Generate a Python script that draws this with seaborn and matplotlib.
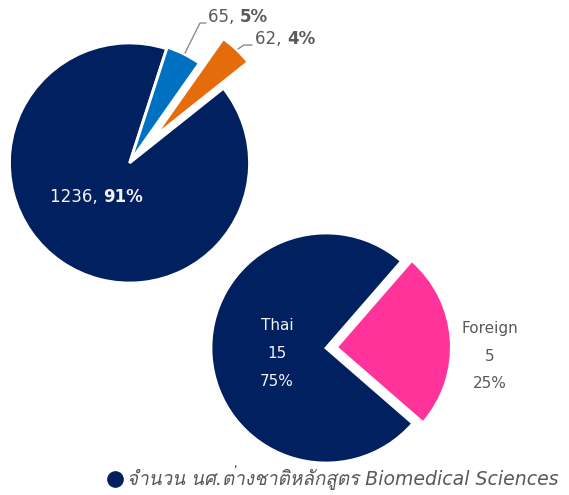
import matplotlib
matplotlib.use("Agg")
import matplotlib.pyplot as plt
from matplotlib.lines import Line2D
import seaborn as sns

# ---- data ----
top_counts = [1236, 65, 62]
top_pcts = ["91%", "5%", "4%"]
bottom_labels = ["Thai", "Foreign"]
bottom_counts = [15, 5]
bottom_pcts = ["75%", "25%"]
legend_label = "จำนวน นศ.ต่างชาติหลักสูตร Biomedical Sciences"

# ---- style ----
sns.set_style("white")
FONT = ["DejaVu Sans", "Loma"]
plt.rcParams["font.family"] = FONT

NAVY = "#002060"
BLUE = "#0070C0"
ORANGE = "#E46C0A"
PINK = "#FF3399"
GREY = "#595959"
LEADER = "#8C8C8C"

W, H = 569, 495
fig = plt.figure(figsize=(W / 100, H / 100), dpi=100)
ax = fig.add_axes([0, 0, 1, 1])

def Y(y):
    return H - y

# top pie
r1 = 120
c1 = (129.5, Y(163))
ax.pie(top_counts, colors=[NAVY, BLUE, ORANGE], startangle=38.5, counterclock=False,
       radius=r1, center=c1, explode=[0, 0.015 * r1, 0.3 * r1],
       wedgeprops=dict(edgecolor="white", linewidth=2), frame=True)

# bottom pie
r2 = 115
c2 = (326, Y(348))
ax.pie(bottom_counts, colors=[NAVY, PINK], startangle=49, counterclock=True,
       radius=r2, center=c2, explode=[0, 0.09 * r2],
       wedgeprops=dict(edgecolor="white", linewidth=2), frame=True)

ax.set_xlim(0, W)
ax.set_ylim(0, H)
ax.set_aspect("equal")
ax.axis("off")

def two_part(x, y, a, b, color, size):
    t1 = ax.text(x, y, a, color=color, fontsize=size, ha="left", va="center")
    ax.annotate(b, xy=(1, 0.5), xycoords=t1, color=color, fontsize=size,
                fontweight="bold", ha="left", va="center")

# top labels
two_part(50, Y(197), f"{top_counts[0]}, ", top_pcts[0], "#F2F2F2", 12)
two_part(208, Y(17), f"{top_counts[1]}, ", top_pcts[1], GREY, 12)
two_part(255, Y(39), f"{top_counts[2]}, ", top_pcts[2], GREY, 12)

# leader lines
ax.plot([185, 200, 206], [Y(53), Y(23), Y(23)], color=LEADER, lw=1)
ax.plot([238, 244, 252], [Y(49), Y(45), Y(45)], color=LEADER, lw=1)

# bottom labels
for i, yy in enumerate([bottom_labels[0], str(bottom_counts[0]), bottom_pcts[0]]):
    ax.text(277, Y(326 + 28 * i), yy, color="#F2F2F2", fontsize=11, ha="center", va="center")
for i, yy in enumerate([bottom_labels[1], str(bottom_counts[1]), bottom_pcts[1]]):
    ax.text(490, Y(329 + 27.5 * i), yy, color=GREY, fontsize=11, ha="center", va="center")

# legend
handle = Line2D([], [], marker="o", ls="", color=NAVY, markersize=11)
ax.legend([handle], [legend_label], loc="center left", bbox_to_anchor=(96 / W, 1 - 478 / H),
          frameon=False, handletextpad=0.15, borderpad=0, handlelength=1.0,
          prop=dict(family=FONT, size=13.6, style="italic"), labelcolor=GREY)

fig.savefig("out.png", dpi=100)
